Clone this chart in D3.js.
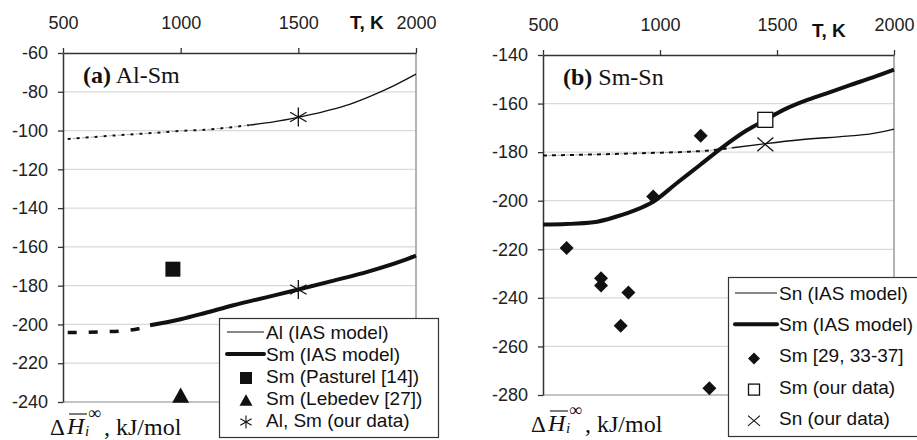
<!DOCTYPE html>
<html>
<head>
<meta charset="utf-8">
<script src="https://cdn.jsdelivr.net/npm/d3@7"></script>
<style>
  body { margin: 0; background: #fff; }
  svg { display: block; }
  .tick text { font-family: "Liberation Sans", Arial, sans-serif; font-size: 18px; fill: #222; }
  .leg { font-family: "Liberation Sans", Arial, sans-serif; font-size: 19px; fill: #111; }
  .serif { font-family: "Liberation Serif", "Times New Roman", serif; fill: #111; }
</style>
</head>
<body>
<script>
// temperature axis (top)
var tempTicks = [500, 1000, 1500, 2000];

// ---- panel (a) Al-Sm ----
var yTicksA = [-60, -80, -100, -120, -140, -160, -180, -200, -220, -240];
var alDashT = [520, 600, 700, 800, 900, 1000, 1100, 1200, 1290];
var alDashH = [-104.4, -103.6, -102.7, -101.9, -101.1, -100.2, -99.6, -98.5, -97.2];
var alT = [1290, 1400, 1500, 1600, 1700, 1800, 1900, 2000];
var alH = [-97.2, -95.4, -93.1, -90.5, -87.2, -82.6, -77.2, -70.9];
var smADashT = [520, 650, 760, 820, 870];
var smADashH = [-204.2, -203.9, -203.2, -202.2, -200.4];
var smAT = [870, 1000, 1100, 1224, 1350, 1500, 1650, 1800, 1950, 2000];
var smAH = [-200.4, -197.3, -194.2, -190.1, -186.4, -182, -177.4, -172.6, -166.8, -164.5];
var pasturelT = [967];
var pasturelH = [-171.5];
var lebedevT = [1000];
var lebedevH = [-236.5];
var ourAT = [1500, 1500];
var ourAH = [-93, -182];

// ---- panel (b) Sm-Sn ----
var yTicksB = [-140, -160, -180, -200, -220, -240, -260, -280];
var snDashT = [500, 700, 900, 1100, 1200, 1310];
var snDashH = [-181.4, -181, -180.5, -179.9, -179.4, -178.2];
var snT = [1310, 1450, 1600, 1800, 1900, 2000];
var snH = [-178.2, -176.5, -174.9, -173.4, -172.5, -170.5];
var smBT = [500, 600, 715, 815, 900, 971, 1071, 1171, 1271, 1371, 1449, 1530, 1627, 1712, 1812, 1910, 2000];
var smBH = [-209.8, -209.6, -208.9, -206.5, -203.7, -200.4, -192.8, -185.3, -177.7, -171, -166.8, -162.5, -158.6, -155.8, -152.4, -149.2, -146];
var litT = [601, 748, 748, 865, 832, 971, 1174, 1211];
var litH = [-219.5, -231.9, -234.9, -237.8, -251.5, -198.3, -173.3, -277.2];
var smOurT = [1450];
var smOurH = [-166.7];
var snOurT = [1450];
var snOurH = [-176.8];

var W = 917, H = 440;
var svg = d3.select("body").append("svg")
    .attr("width", W)
    .attr("height", H);

// marker shapes
function asterisk(g, cx, cy, r, w) {
    for (var a = 0; a < 3; a++) {
        var ang = Math.PI / 2 + a * Math.PI / 3;
        g.append("line")
            .attr("x1", cx + r * Math.cos(ang)).attr("y1", cy - r * Math.sin(ang))
            .attr("x2", cx - r * Math.cos(ang)).attr("y2", cy + r * Math.sin(ang))
            .attr("stroke", "#111").attr("stroke-width", w);
    }
}
function cross(g, cx, cy, r, w) {
    g.append("path")
        .attr("d", "M" + (cx - r) + "," + (cy - r * 0.85) + "L" + (cx + r) + "," + (cy + r * 0.85) +
            "M" + (cx - r) + "," + (cy + r * 0.85) + "L" + (cx + r) + "," + (cy - r * 0.85))
        .attr("stroke", "#111").attr("stroke-width", w).attr("fill", "none");
}
function diamond(g, cx, cy, r) {
    g.append("path")
        .attr("d", "M" + cx + "," + (cy - r) + "L" + (cx + r) + "," + cy + "L" + cx + "," + (cy + r) + "L" + (cx - r) + "," + cy + "Z")
        .attr("fill", "#111");
}
function square(g, cx, cy, s, open) {
    g.append("rect")
        .attr("x", cx - s / 2).attr("y", cy - s / 2)
        .attr("width", s).attr("height", s)
        .attr("fill", open ? "#fff" : "#111")
        .attr("stroke", "#111").attr("stroke-width", open ? 1.3 : 0);
}
function triangle(g, cx, cy, s) {
    var h = s * 0.9;
    g.append("path")
        .attr("d", "M" + cx + "," + (cy - h / 2) + "L" + (cx + s / 2) + "," + (cy + h / 2) + "L" + (cx - s / 2) + "," + (cy + h / 2) + "Z")
        .attr("fill", "#111");
}

function zip(a, b) {
    return a.map(function(d, i) { return [d, b[i]]; });
}

// one panel: frame, grid, axes
function drawPanel(o) {
    var x = d3.scaleLinear().domain([500, 2000]).range([o.x0, o.x1]);
    var y = d3.scaleLinear()
        .domain([o.yTicks[0], o.yTicks[o.yTicks.length - 1]])
        .range([o.y0, o.y1]);
    var g = svg.append("g");

    // horizontal grid
    g.selectAll(".grid")
        .data(o.yTicks.slice(1))
        .enter().append("line")
        .attr("x1", o.x0).attr("x2", o.x1)
        .attr("y1", function(d) { return y(d); })
        .attr("y2", function(d) { return y(d); })
        .attr("stroke", function(d, i) { return i == o.yTicks.length - 2 ? "#8a8a8a" : "#d9d9d9"; })
        .attr("stroke-width", 1.2);

    // right border
    g.append("line")
        .attr("x1", o.x1).attr("x2", o.x1)
        .attr("y1", o.y0).attr("y2", o.y1)
        .attr("stroke", "#9a9a9a").attr("stroke-width", 1.5);

    var xa = g.append("g")
        .attr("transform", "translate(0," + o.y0 + ")")
        .call(d3.axisTop(x).tickValues(tempTicks).tickFormat(d3.format("d"))
            .tickSize(5).tickSizeOuter(0).tickPadding(o.xPad));
    var ya = g.append("g")
        .attr("transform", "translate(" + o.x0 + ",0)")
        .call(d3.axisLeft(y).tickValues(o.yTicks).tickFormat(d3.format("d"))
            .tickSize(5).tickSizeOuter(0).tickPadding(10));
    [xa, ya].forEach(function(a) {
        a.select(".domain").attr("stroke", "#333").attr("stroke-width", 1.5);
        a.selectAll(".tick line").attr("stroke", "#333").attr("stroke-width", 1.3);
    });
    // plain hyphen for negatives, as in the original
    ya.selectAll(".tick text").text(function(d) { return "-" + Math.abs(d); });

    // T, K label
    g.append("text")
        .attr("x", o.tkX).attr("y", o.tkY)
        .attr("font-family", "Liberation Sans, Arial, sans-serif")
        .attr("font-size", 19).attr("font-weight", "bold")
        .attr("fill", "#111")
        .text("T, K");

    // panel title
    var t = g.append("text").attr("class", "serif")
        .attr("x", o.x0 + 20).attr("y", o.y0 + 30)
        .attr("font-size", 24);
    t.append("tspan").attr("font-weight", "bold").text(o.tag);
    t.append("tspan").text(" " + o.system);

    // y title: ΔH̄i∞ , kJ/mol
    var bx = o.titleX, by = o.titleY;
    g.append("text").attr("class", "serif").attr("x", bx).attr("y", by)
        .attr("font-size", 23).text("\u0394");
    g.append("text").attr("class", "serif").attr("x", bx + 17).attr("y", by - 1)
        .attr("font-size", 24).attr("font-style", "italic").text("H");
    g.append("line")
        .attr("x1", bx + 19).attr("x2", bx + 37)
        .attr("y1", by - 21).attr("y2", by - 21)
        .attr("stroke", "#111").attr("stroke-width", 1.1);
    g.append("text").attr("class", "serif").attr("x", bx + 35).attr("y", by + 1)
        .attr("font-size", 15).attr("font-style", "italic").text("i");
    g.append("text").attr("class", "serif").attr("x", bx + 38).attr("y", by - 16)
        .attr("font-size", 18).text("\u221E");
    g.append("text").attr("class", "serif").attr("x", bx + 54).attr("y", by)
        .attr("font-size", 24).text(", kJ/mol");

    return { x: x, y: y, g: g };
}

var line = function(p) {
    return d3.line()
        .x(function(d) { return p.x(d[0]); })
        .y(function(d) { return p.y(d[1]); })
        .curve(d3.curveMonotoneX);
};

// ================= panel (a) =================
var pa = drawPanel({
    x0: 63, x1: 416, y0: 53, y1: 402, yTicks: yTicksA,
    tkX: 350, tkY: 29, xPad: 19, tag: "(a)", system: "Al-Sm",
    titleX: 50, titleY: 435
});
var la = line(pa);

// dotted low-T part of Al curve
pa.g.append("path").datum(zip(alDashT, alDashH))
    .attr("d", la).attr("fill", "none")
    .attr("stroke", "#999").attr("stroke-width", 0.8).attr("stroke-dasharray", "4,5").attr("stroke-dashoffset", 4);
pa.g.append("path").datum(zip(alDashT, alDashH))
    .attr("d", la).attr("fill", "none")
    .attr("stroke", "#111").attr("stroke-width", 2).attr("stroke-dasharray", "3,6");
pa.g.append("path").datum(zip(alT, alH))
    .attr("d", la).attr("fill", "none")
    .attr("stroke", "#111").attr("stroke-width", 1.3);

// Sm curve
pa.g.append("path").datum(zip(smADashT, smADashH))
    .attr("d", la).attr("fill", "none")
    .attr("stroke", "#111").attr("stroke-width", 3.5).attr("stroke-dasharray", "9,12");
pa.g.append("path").datum(zip(smAT, smAH))
    .attr("d", la).attr("fill", "none")
    .attr("stroke", "#111").attr("stroke-width", 4);

pasturelT.forEach(function(t, i) { square(pa.g, pa.x(t), pa.y(pasturelH[i]), 15); });
lebedevT.forEach(function(t, i) { triangle(pa.g, pa.x(t), pa.y(lebedevH[i]), 17); });
ourAT.forEach(function(t, i) { asterisk(pa.g, pa.x(t), pa.y(ourAH[i]), 9.5, 1.3); });

// legend (a)
var lgA = svg.append("g");
lgA.append("rect").attr("x", 219.5).attr("y", 318.5).attr("width", 219).attr("height", 119)
    .attr("fill", "#fff").attr("stroke", "#333").attr("stroke-width", 1.2);
var legA = ["Al (IAS model)", "Sm (IAS model)", "Sm (Pasturel [14])", "Sm (Lebedev [27])", "Al, Sm (our data)"];
legA.forEach(function(s, i) {
    var cy = 332 + i * 22;
    lgA.append("text").attr("class", "leg").attr("x", 266).attr("y", cy + 7).text(s);
    if (i == 0) lgA.append("line").attr("x1", 227).attr("x2", 264).attr("y1", cy).attr("y2", cy).attr("stroke", "#111").attr("stroke-width", 1.2);
    if (i == 1) lgA.append("line").attr("x1", 227).attr("x2", 264).attr("y1", cy).attr("y2", cy).attr("stroke", "#111").attr("stroke-width", 4).attr("stroke-linecap", "round");
    if (i == 2) square(lgA, 246, cy + 2, 12);
    if (i == 3) triangle(lgA, 246, cy + 2, 13);
    if (i == 4) asterisk(lgA, 246, cy + 2, 6.5, 1.1);
});

// ================= panel (b) =================
var pb = drawPanel({
    x0: 543, x1: 894, y0: 55, y1: 395, yTicks: yTicksB,
    tkX: 812, tkY: 37, xPad: 19, tag: "(b)", system: "Sm-Sn",
    titleX: 531, titleY: 432
});
var lb = line(pb);

pb.g.append("path").datum(zip(snDashT, snDashH))
    .attr("d", lb).attr("fill", "none")
    .attr("stroke", "#999").attr("stroke-width", 0.8).attr("stroke-dasharray", "4,5").attr("stroke-dashoffset", 4);
pb.g.append("path").datum(zip(snDashT, snDashH))
    .attr("d", lb).attr("fill", "none")
    .attr("stroke", "#111").attr("stroke-width", 2).attr("stroke-dasharray", "4,5");
pb.g.append("path").datum(zip(snT, snH))
    .attr("d", lb).attr("fill", "none")
    .attr("stroke", "#111").attr("stroke-width", 1.3);
pb.g.append("path").datum(zip(smBT, smBH))
    .attr("d", lb).attr("fill", "none")
    .attr("stroke", "#111").attr("stroke-width", 4);

litT.forEach(function(t, i) { diamond(pb.g, pb.x(t), pb.y(litH[i]), 7); });
snOurT.forEach(function(t, i) { cross(pb.g, pb.x(t), pb.y(snOurH[i]), 8, 1.3); });
smOurT.forEach(function(t, i) { square(pb.g, pb.x(t), pb.y(smOurH[i]), 15, true); });

// legend (b)
var lgB = svg.append("g");
lgB.append("rect").attr("x", 728.5).attr("y", 277.5).attr("width", 200).attr("height", 159)
    .attr("fill", "#fff").attr("stroke", "#333").attr("stroke-width", 1.2);
var legB = ["Sn (IAS model)", "Sm (IAS model)", "Sm [29, 33-37]", "Sm (our data)", "Sn (our data)"];
legB.forEach(function(s, i) {
    var cy = 293 + i * 31.2;
    lgB.append("text").attr("class", "leg").attr("x", 779).attr("y", cy + 7).text(s);
    if (i == 0) lgB.append("line").attr("x1", 735).attr("x2", 777).attr("y1", cy).attr("y2", cy).attr("stroke", "#111").attr("stroke-width", 1.2);
    if (i == 1) lgB.append("line").attr("x1", 735).attr("x2", 777).attr("y1", cy).attr("y2", cy).attr("stroke", "#111").attr("stroke-width", 4).attr("stroke-linecap", "round");
    if (i == 2) diamond(lgB, 754, cy + 3, 6);
    if (i == 3) square(lgB, 754, cy + 3, 11, true);
    if (i == 4) cross(lgB, 754, cy + 3, 6, 1.1);
});
</script>
</body>
</html>
